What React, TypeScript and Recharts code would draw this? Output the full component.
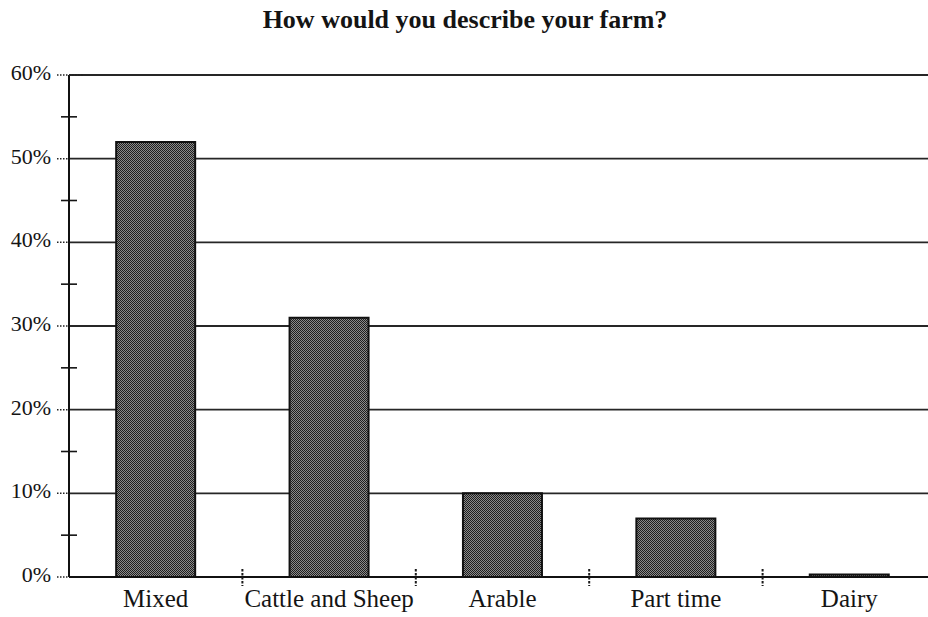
import React from 'react';
import { BarChart, Bar, XAxis, YAxis, CartesianGrid } from 'recharts';

// Survey answers: share of respondents per farm type (%)
const categories = ['Mixed', 'Cattle and Sheep', 'Arable', 'Part time', 'Dairy'];
const shares = [52, 31, 10, 7, 0.3];

// Y axis: labelled every 10%, small marks at the 5% steps
const yTicks = [0, 5, 10, 15, 20, 25, 30, 35, 40, 45, 50, 55, 60];
const gridValues = [10, 20, 30, 40, 50, 60];

const data = categories.map((name, i) => ({ name, share: shares[i] }));

const FONT = '"Liberation Serif", "Times New Roman", Times, serif';
const INK = '#141414';

const YTick = (props: any) => {
  const { x, y, payload } = props;
  const v = payload.value as number;
  if (v % 10 !== 0) {
    return <line x1={x - 8} x2={x + 8} y1={y} y2={y} stroke={INK} strokeWidth={1.6} />;
  }
  return (
    <g>
      <line
        x1={x - 12}
        x2={v === 60 ? x + 14 : x}
        y1={y}
        y2={y}
        stroke="#222"
        strokeWidth={1.5}
        strokeDasharray="1.5 1.5"
      />
      <text
        x={x - 18}
        y={y + 5}
        textAnchor="end"
        fill={INK}
        style={{ fontFamily: FONT, fontSize: 22 }}
      >
        {`${v}%`}
      </text>
    </g>
  );
};

// Category label, plus a dotted mark on the axis at the right edge of the band
const XLabel = (props: any) => {
  const { x, y, payload, index } = props;
  const half = payload.offset ?? 0;
  const last = index === categories.length - 1;
  return (
    <g>
      {!last && half > 0 && (
        <line
          x1={x + half}
          x2={x + half}
          y1={y - 8}
          y2={y + 9}
          stroke="#1a1a1a"
          strokeWidth={2}
          strokeDasharray="2.5 1.5"
        />
      )}
      <text
        x={x}
        y={y + 30}
        textAnchor="middle"
        fill={INK}
        style={{ fontFamily: FONT, fontSize: 25 }}
      >
        {payload.value}
      </text>
    </g>
  );
};

export default function App() {
  return (
    <div
      style={{
        position: 'fixed',
        left: 0,
        top: 0,
        width: 928,
        height: 617,
        overflow: 'hidden',
        background: '#fff',
      }}
    >
      <svg width={0} height={0} style={{ position: 'absolute' }}>
        <defs>
          <pattern id="stipple" width={2} height={2} patternUnits="userSpaceOnUse">
            <rect width={2} height={2} fill="#8a8a8a" />
            <rect x={0} y={0} width={1} height={1} fill="#1e1e1e" />
            <rect x={1} y={1} width={1} height={1} fill="#1e1e1e" />
          </pattern>
        </defs>
      </svg>
      <div
        style={{
          position: 'absolute',
          left: 0,
          top: 7,
          width: 930,
          textAlign: 'center',
          fontFamily: FONT,
          fontWeight: 'bold',
          fontSize: 26,
          lineHeight: '26px',
          color: INK,
        }}
      >
        How would you describe your farm?
      </div>
      <BarChart
        width={940}
        height={617}
        data={data}
        margin={{ top: 75, right: 4, bottom: 10, left: 0 }}
        barCategoryGap="27.2%"
        style={{ fontFamily: FONT }}
      >
        <CartesianGrid
          vertical={false}
          horizontalValues={gridValues}
          stroke="#262626"
          strokeWidth={1.8}
        />
        <XAxis
          dataKey="name"
          height={30}
          interval={0}
          axisLine={{ stroke: '#111', strokeWidth: 2 }}
          tickLine={false}
          tickSize={0}
          tickMargin={0}
          tick={<XLabel />}
        />
        <YAxis
          width={69}
          domain={[0, 60]}
          ticks={yTicks}
          interval={0}
          axisLine={{ stroke: '#111', strokeWidth: 2 }}
          tickLine={false}
          tickSize={0}
          tickMargin={0}
          tick={<YTick />}
          allowDataOverflow
        />
        <Bar
          dataKey="share"
          fill="url(#stipple)"
          stroke="#111"
          strokeWidth={2}
          isAnimationActive={false}
        />
      </BarChart>
    </div>
  );
}
